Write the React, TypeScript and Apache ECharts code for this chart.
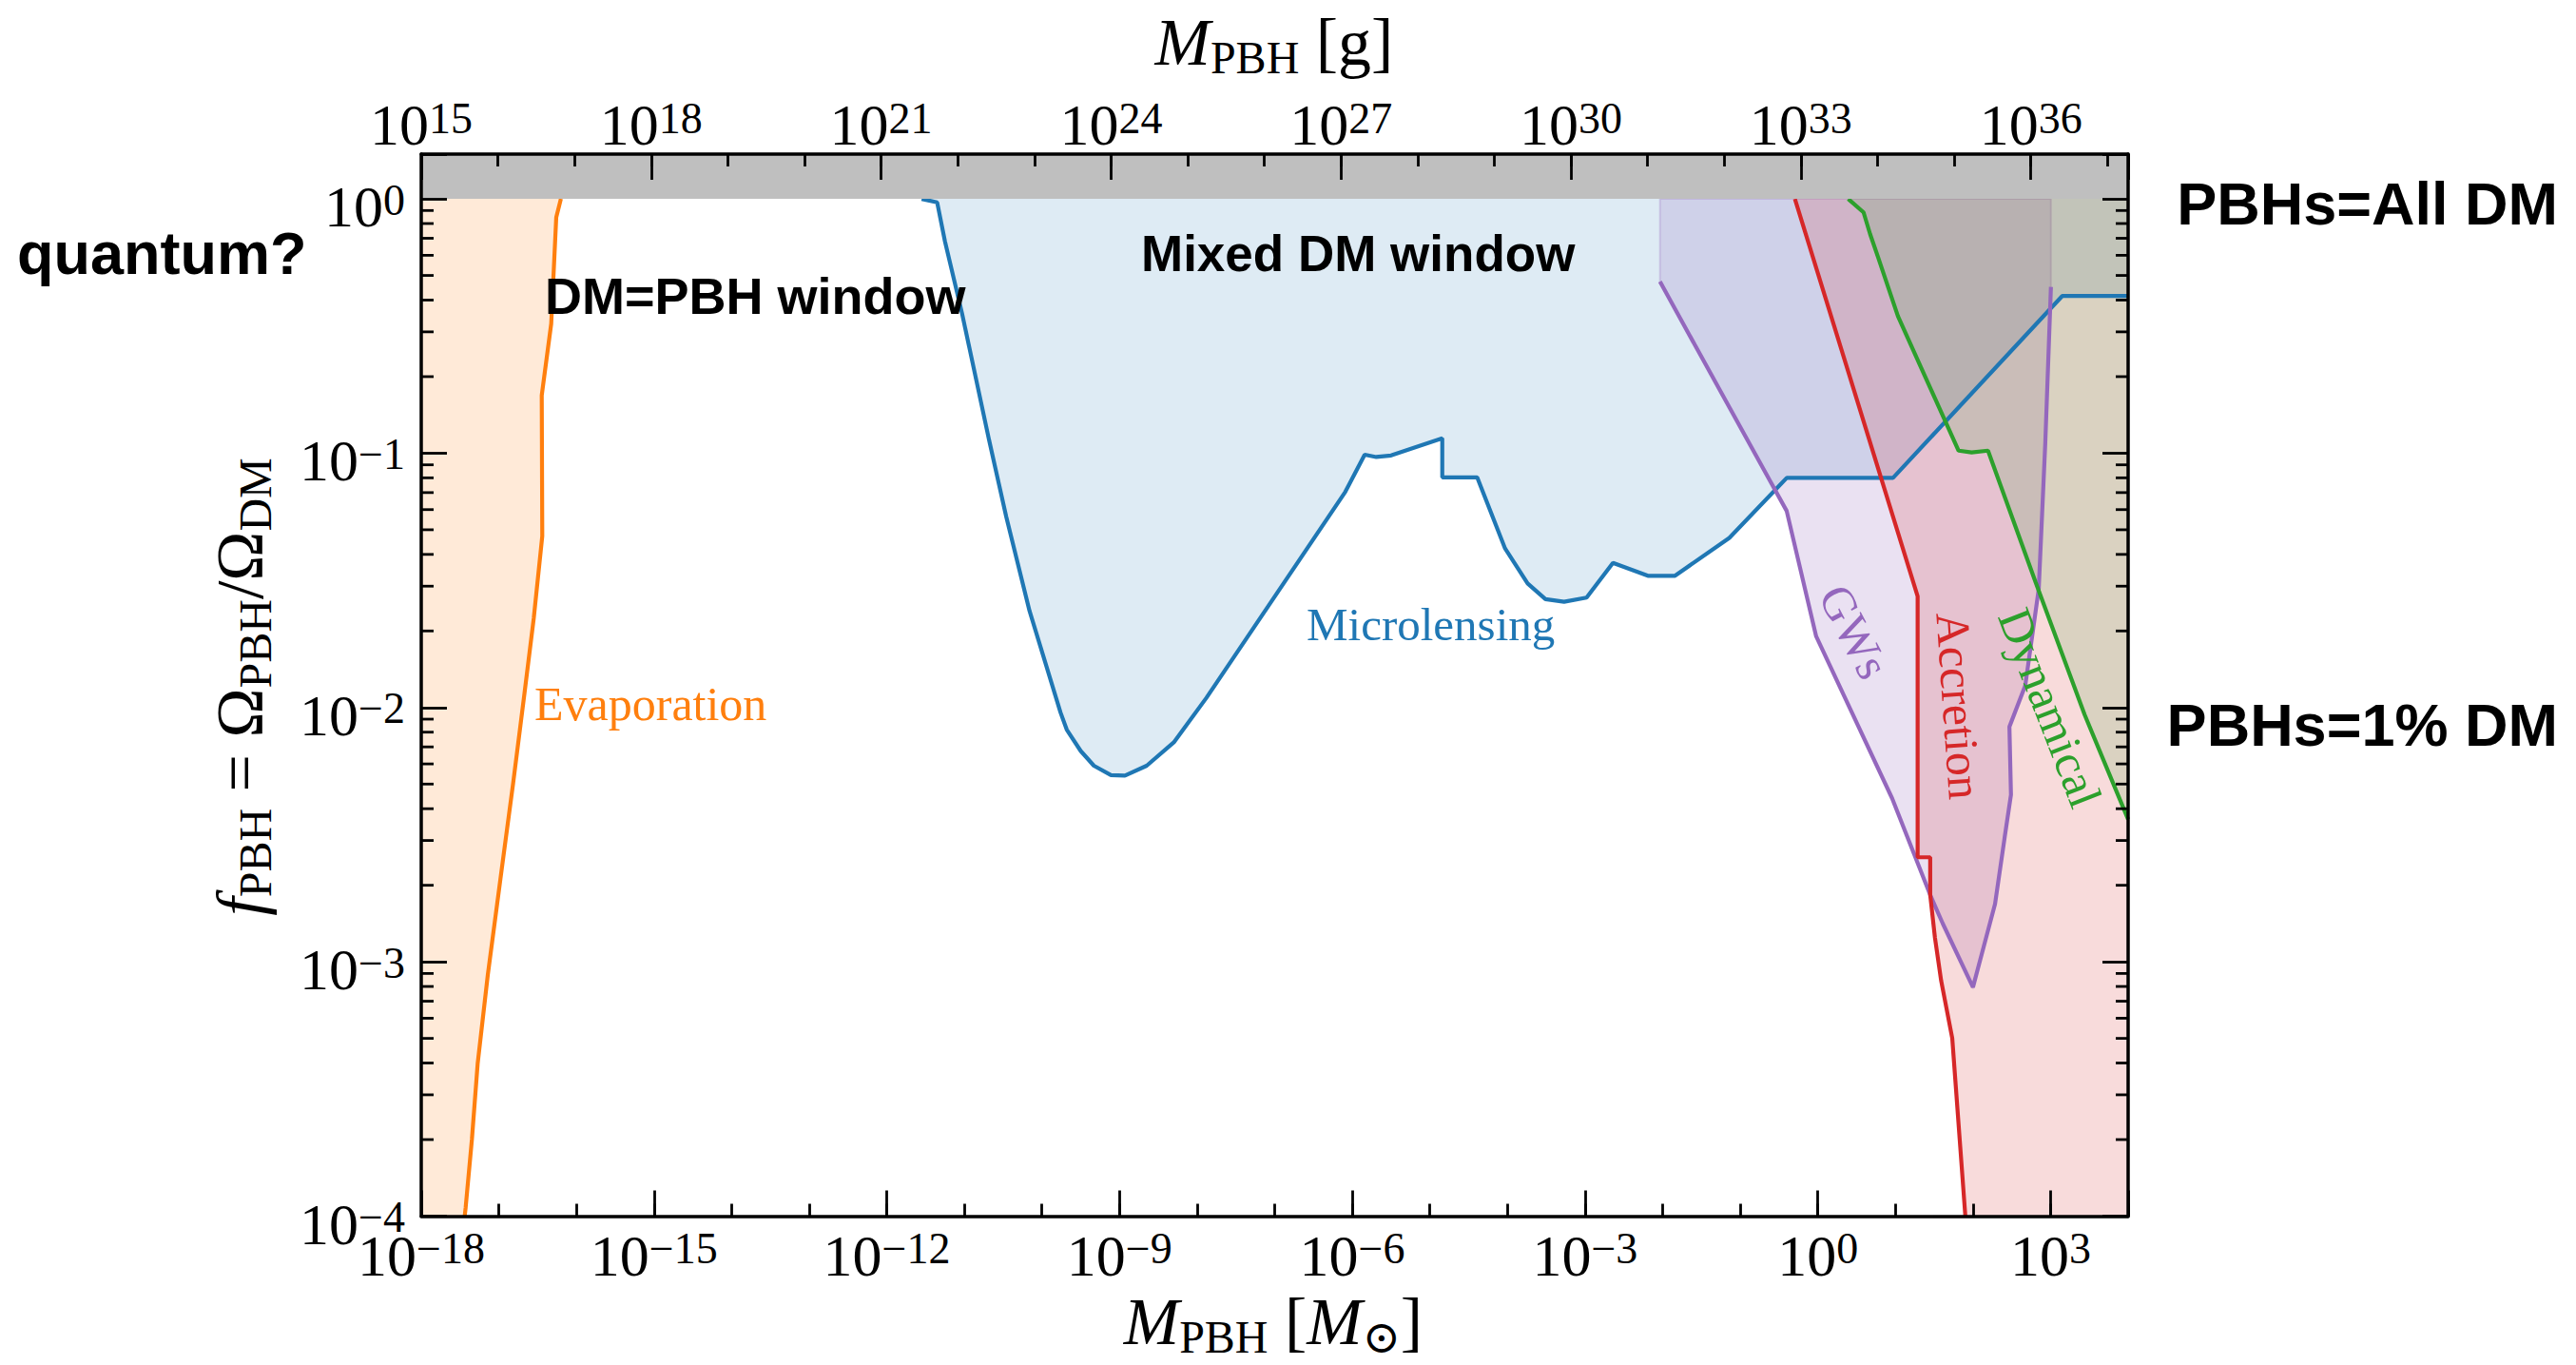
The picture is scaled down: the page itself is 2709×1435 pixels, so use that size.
import React, { useEffect, useRef } from 'react';
import * as echarts from 'echarts';

// ---- axis ranges (log10 units) ----
const X_MIN = -18; // log10(M_PBH / M_sun)
const X_MAX = 4;
const Y_MIN = -4; // log10 f_PBH
const Y_MAX = Math.log10(1.5);
const G_MIN = 15; // log10(M_PBH / g)
const G_MAX = 37.27;

// ---- constraint curves (log10 M/Msun, log10 f) ----
const evaporationLogM = [-16.2, -16.26, -16.325, -16.447, -16.44, -16.55, -16.67, -16.815, -16.979, -17.142, -17.273, -17.347, -17.428, -17.44];
const evaporationLogF = [0, -0.073, -0.491, -0.773, -1.326, -1.649, -1.946, -2.296, -2.673, -3.051, -3.401, -3.698, -3.967, -4];

const microlensingLogM = [-11.55, -11.35, -11.25, -11.03, -10.68, -10.46, -10.16, -9.76, -9.68, -9.5, -9.33, -9.11, -8.93, -8.65, -8.3, -7.88, -6.09, -5.84, -5.69, -5.5, -4.84, -4.84, -4.39, -4.03, -3.74, -3.51, -3.27, -2.98, -2.64, -2.19, -1.84, -1.14, -0.4, 0.97, 3.15, 4];
const microlensingLogF = [0, -0.014, -0.167, -0.45, -0.95, -1.25, -1.62, -2.02, -2.087, -2.171, -2.229, -2.266, -2.268, -2.229, -2.137, -1.962, -1.152, -1.006, -1.015, -1.009, -0.941, -1.095, -1.095, -1.375, -1.512, -1.574, -1.584, -1.568, -1.431, -1.482, -1.482, -1.333, -1.097, -1.097, -0.382, -0.382];

const gwLogM = [-2.034, -1.583, -0.401, -0.021, 0.958, 1.449, 1.61, 2.0, 2.285, 2.408, 2.49, 2.47, 2.674, 2.848, 2.932, 3.005];
const gwLogF = [-0.325, -0.575, -1.227, -1.72, -2.357, -2.737, -2.849, -3.1, -2.772, -2.512, -2.343, -2.076, -1.914, -1.534, -0.962, -0.346];

const accretionLogM = [-0.295, 1.287, 1.287, 1.449, 1.449, 1.51, 1.59, 1.733, 1.902];
const accretionLogF = [0, -1.563, -2.589, -2.589, -2.737, -2.905, -3.074, -3.3, -4];

const dynamicalLogM = [0.392, 0.59, 0.675, 0.78, 1.033, 1.371, 1.815, 1.983, 2.194, 2.806, 3.439, 4.0];
const dynamicalLogF = [0, -0.053, -0.139, -0.232, -0.461, -0.69, -0.99, -0.997, -0.99, -1.506, -2.028, -2.44];

// ---- colours ----
const C_ORANGE = '#ff7f0e';
const C_BLUE = '#1f77b4';
const C_PURPLE = '#9467bd';
const C_RED = '#d62728';
const C_GREEN = '#2ca02c';

const SERIF = "'Liberation Serif', 'DejaVu Serif', serif";
const SANS = "'Liberation Sans', Arial, 'Helvetica', sans-serif";

const zip = (xs: number[], ys: number[]) => xs.map((x, i) => [x, ys[i]]);

const supTxt = (n: number) => (n < 0 ? '\u2212' + Math.abs(n) : String(n));

const fmtEvery3 = (v: number) => {
  const r = Math.round(v);
  if (Math.abs(v - r) > 1e-6 || r % 3 !== 0) return '';
  return `{b|10}{s|${supTxt(r)}}`;
};
const fmtInt = (v: number) => {
  const r = Math.round(v);
  if (Math.abs(v - r) > 1e-6) return '';
  return `{b|10}{s|${supTxt(r)}}`;
};

const tickRich: any = {
  b: { fontSize: 62, lineHeight: 60, fontFamily: SERIF, color: '#000', verticalAlign: 'middle' },
  s: { fontSize: 46, lineHeight: 34, fontFamily: SERIF, color: '#000', verticalAlign: 'top' },
};

const axisLineStyle = { show: true, onZero: false, lineStyle: { color: '#000', width: 3.5 } };
const noAxisLine = { show: false, onZero: false };
const majorTick = { show: true, inside: true, length: 27, lineStyle: { color: '#000', width: 2.8 } };
const minorTick = { show: true, inside: true, length: 13, lineStyle: { color: '#000', width: 2.8 } };

function polygonSeries(pts: number[][], fill: string, z: number, stroke?: string): any {
  return {
    type: 'custom',
    xAxisIndex: 0,
    yAxisIndex: 0,
    silent: true,
    z,
    data: [pts[0]],
    renderItem: (_params: any, api: any) => ({
      type: 'polygon',
      shape: { points: pts.map((p) => api.coord(p)) },
      style: { fill, stroke: stroke || 'none', lineWidth: 2 },
    }),
  };
}

function lineSeries(pts: number[][], color: string, z: number): any {
  return {
    type: 'line',
    xAxisIndex: 0,
    yAxisIndex: 0,
    data: pts,
    showSymbol: false,
    symbol: 'none',
    silent: true,
    z,
    lineStyle: { color, width: 4.2 },
  };
}

function textEl(text: string, x: number, y: number, o: any): any {
  return {
    type: 'text',
    x,
    y,
    rotation: o.rotation || 0,
    z: 100,
    silent: true,
    style: {
      text,
      fill: o.color || '#000',
      fontSize: o.fontSize,
      fontFamily: o.fontFamily || SERIF,
      fontWeight: o.fontWeight || 'normal',
      fontStyle: o.fontStyle || 'normal',
      align: o.align || 'left',
      textAlign: o.align || 'left',
      verticalAlign: 'middle',
      textVerticalAlign: 'middle',
      rich: o.rich,
    },
  };
}

const titleRich: any = {
  i: { fontSize: 70, fontStyle: 'italic', fontFamily: SERIF, color: '#000', lineHeight: 80, verticalAlign: 'middle' },
  r: { fontSize: 70, fontFamily: SERIF, color: '#000', lineHeight: 80, verticalAlign: 'middle' },
  u: { fontSize: 48, fontFamily: SERIF, color: '#000', lineHeight: 48, verticalAlign: 'bottom' },
};

export default function App() {
  const ref = useRef<HTMLDivElement>(null);
  useEffect(() => {
    document.body.style.margin = '0';
    const chart = echarts.init(ref.current!, null, { renderer: 'svg' });

    const evap = zip(evaporationLogM, evaporationLogF);
    const micro = zip(microlensingLogM, microlensingLogF);
    const gw = zip(gwLogM, gwLogF);
    const acc = zip(accretionLogM, accretionLogF);
    const dyn = zip(dynamicalLogM, dynamicalLogF);

    const evapPoly = [[X_MIN, 0], ...evap, [X_MIN, Y_MIN]];
    const microPoly = [...micro, [X_MAX, 0]];
    const gwPoly = [[gw[0][0], 0], ...gw, [gw[gw.length - 1][0], 0]];
    const accPoly = [...acc, [X_MAX, Y_MIN], [X_MAX, 0]];
    const dynPoly = [...dyn, [X_MAX, 0]];
    const bandPoly = [[X_MIN, 0], [X_MAX, 0], [X_MAX, Y_MAX], [X_MIN, Y_MAX]];

    const yMinor: number[][] = [];
    for (let n = Y_MIN; n <= 0; n++) {
      for (let k = 2; k <= 9; k++) {
        const v = n + Math.log10(k);
        if (v < Y_MAX) yMinor.push([X_MIN, v]);
      }
    }

    const option: any = {
      animation: false,
      backgroundColor: '#ffffff',
      grid: { left: 443, right: 471, top: 162, bottom: 156.5, containLabel: false, outerBoundsMode: 'none' },
      xAxis: [
        {
          type: 'value', position: 'bottom', min: X_MIN, max: X_MAX, interval: 3, z: 50,
          axisLine: axisLineStyle, axisTick: majorTick, splitLine: { show: false },
          axisLabel: { show: true, margin: 11, formatter: fmtEvery3, rich: tickRich, showMinLabel: true, showMaxLabel: true },
        },
        {
          type: 'value', position: 'bottom', min: X_MIN, max: X_MAX, interval: 1, z: 50,
          axisLine: noAxisLine, axisTick: minorTick, splitLine: { show: false }, axisLabel: { show: false },
        },
        {
          type: 'value', position: 'top', min: G_MIN, max: G_MAX, interval: 3, z: 50,
          axisLine: axisLineStyle, axisTick: majorTick, splitLine: { show: false },
          axisLabel: { show: true, margin: 1, formatter: fmtEvery3, rich: tickRich, showMinLabel: true, showMaxLabel: true },
        },
        {
          type: 'value', position: 'top', min: G_MIN, max: G_MAX, interval: 1, z: 50,
          axisLine: noAxisLine, axisTick: minorTick, splitLine: { show: false }, axisLabel: { show: false },
        },
      ],
      yAxis: [
        {
          type: 'value', position: 'left', min: Y_MIN, max: Y_MAX, interval: 1, z: 50,
          axisLine: axisLineStyle, axisTick: majorTick, splitLine: { show: false },
          axisLabel: { show: true, margin: 17, formatter: fmtInt, rich: tickRich, padding: [16, 0, 0, 0], showMinLabel: true, showMaxLabel: true },
        },
        {
          type: 'value', position: 'right', min: Y_MIN, max: Y_MAX, interval: 1, z: 50,
          axisLine: axisLineStyle, axisTick: majorTick, splitLine: { show: false }, axisLabel: { show: false },
        },
      ],
      series: [
        polygonSeries(evapPoly, 'rgba(255,127,14,0.16)', 1),
        polygonSeries(microPoly, 'rgba(31,119,180,0.15)', 2),
        polygonSeries(gwPoly, 'rgba(148,103,189,0.2)', 3, 'rgba(148,103,189,0.25)'),
        polygonSeries(accPoly, 'rgba(214,39,40,0.17)', 4),
        polygonSeries(dynPoly, 'rgba(44,160,44,0.15)', 5),
        lineSeries(evap, C_ORANGE, 10),
        lineSeries(micro, C_BLUE, 10),
        lineSeries(gw, C_PURPLE, 10),
        lineSeries(acc, C_RED, 10),
        lineSeries(dyn, C_GREEN, 10),
        polygonSeries(bandPoly, '#bfbfbf', 20),
        {
          type: 'custom', xAxisIndex: 0, yAxisIndex: 0, silent: true, z: 40,
          data: yMinor,
          renderItem: (_p: any, api: any) => {
            const v = api.value(1);
            const l = api.coord([X_MIN, v]);
            const r = api.coord([X_MAX, v]);
            const st = { stroke: '#000', lineWidth: 2.8 };
            return {
              type: 'group',
              children: [
                { type: 'line', shape: { x1: l[0], y1: l[1], x2: l[0] + 13, y2: l[1] }, style: st },
                { type: 'line', shape: { x1: r[0], y1: r[1], x2: r[0] - 13, y2: r[1] }, style: st },
              ],
            };
          },
        },
      ],
      graphic: [
        // axis titles
        textEl('{i|M}{u|PBH}{r| [g]}', 1340, 44, { align: 'center', rich: titleRich, fontSize: 70 }),
        textEl('{i|M}{u|PBH}{r| [}{i|M}{u|\u2299}{r|]}', 1339, 1389, { align: 'center', rich: titleRich, fontSize: 70 }),
        textEl('{i|f}{u|PBH}{r| = \u03A9}{u|PBH}{r|/\u03A9}{u|DM}', 252, 722, { align: 'center', rich: titleRich, fontSize: 70, rotation: Math.PI / 2 }),
        // bold annotations
        textEl('quantum?', 18, 266, { fontSize: 63, fontFamily: SANS, fontWeight: 'bold' }),
        textEl('PBHs=All DM', 2690, 214, { fontSize: 63, fontFamily: SANS, fontWeight: 'bold', align: 'right' }),
        textEl('PBHs=1% DM', 2690, 762, { fontSize: 63, fontFamily: SANS, fontWeight: 'bold', align: 'right' }),
        textEl('Mixed DM window', 1200, 266, { fontSize: 53, fontFamily: SANS, fontWeight: 'bold' }),
        textEl('DM=PBH window', 573, 311, { fontSize: 54, fontFamily: SANS, fontWeight: 'bold' }),
        // curve labels
        textEl('Evaporation', 562, 740, { fontSize: 50, color: C_ORANGE }),
        textEl('Microlensing', 1374, 656, { fontSize: 49, color: C_BLUE }),
        textEl('GWs', 1950, 664, { fontSize: 50, color: C_PURPLE, align: 'center', rotation: (-62.4 * Math.PI) / 180 }),
        textEl('Accretion', 2060, 742, { fontSize: 50, color: C_RED, align: 'center', rotation: (-86 * Math.PI) / 180 }),
        textEl('Dynamical', 2156, 744, { fontSize: 50, color: C_GREEN, align: 'center', rotation: (-68.8 * Math.PI) / 180 }),
      ],
    };

    chart.setOption(option);
    return () => chart.dispose();
  }, []);

  return (
    <div
      ref={ref}
      style={{ position: 'fixed', left: 0, top: 0, width: 2709, height: 1435, background: '#fff' }}
    />
  );
}
